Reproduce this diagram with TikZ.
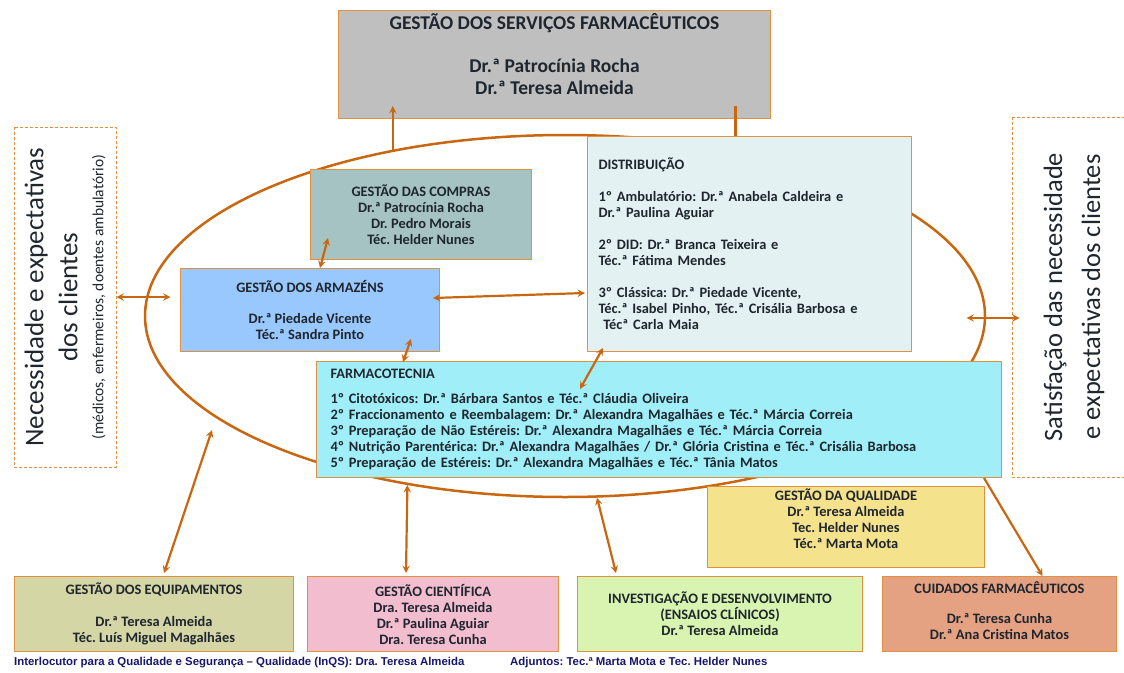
\documentclass[tikz,border=0pt]{standalone}
\usepackage{fontspec}
\setmainfont{Carlito}
\newfontfamily\arialfont{Liberation Sans}
\usetikzlibrary{shapes.geometric}
\frenchspacing
\definecolor{laranja}{HTML}{C8670F}
\definecolor{borda}{HTML}{E0913F}
\definecolor{texto}{HTML}{1F262E}
\definecolor{azulrod}{HTML}{16166E}
\definecolor{cinza}{HTML}{BFBFBF}
\definecolor{verdeacin}{HTML}{A6C3C3}
\definecolor{azularm}{HTML}{99C8FF}
\definecolor{azuldist}{HTML}{E3F1F3}
\definecolor{ciano}{HTML}{A0EFF8}
\definecolor{amarelo}{HTML}{F5E28C}
\definecolor{oliva}{HTML}{D4D6A6}
\definecolor{rosa}{HTML}{F3BDD0}
\definecolor{verdeclaro}{HTML}{D9F4B0}
\definecolor{salmao}{HTML}{E5A283}

\begin{document}
\begin{tikzpicture}[x=1pt, y=-1pt, line join=round, >=stealth,
		caixa/.style={draw=borda, line width=1pt, inner sep=0pt, anchor=north west, align=center, text=texto, font=\bfseries\fontsize{14.4}{16}\selectfont},
		tracejado/.style={draw=borda, line width=1pt, dash pattern=on 3pt off 2pt, inner sep=0pt, rotate=90, align=center, text=texto},
		seta/.style={->, draw=laranja, line width=2.2pt},
		dseta/.style={<->, draw=laranja, line width=2.2pt},
		rodape/.style={anchor=west, inner sep=0pt, text=azulrod, font=\arialfont\bfseries\fontsize{11.4}{13}\selectfont}]
	\useasboundingbox (0,0) rectangle (1124,672);
	% elipse central
	\node[ellipse, draw=laranja, line width=2.5pt, inner sep=0pt, minimum width=840, minimum height=362] (elipse) at (565,316) {};
	% clientes
	\node[tracejado, minimum width=340, minimum height=102, font=\fontsize{27}{34}\selectfont] (necess) at (65,297)
		{Necessidade e expectativas\\dos clientes\\[-8pt]{\fontsize{15.5}{18}\selectfont (médicos, enfermeiros, doentes ambulatório)}};
	\node[tracejado, minimum width=360, minimum height=124, font=\fontsize{26.5}{38}\selectfont] (satisf) at (1074,297)
		{Satisfação das necessidade\\e expectativas dos clientes};
	% caixas
	\node[caixa, fill=cinza, minimum width=432, minimum height=108, font=\bfseries\fontsize{19.5}{21.5}\selectfont] (topo) at (338,10)
		{GESTÃO DOS SERVIÇOS FARMACÊUTICOS\\ \mbox{}\\Dr.ª Patrocínia Rocha\\ Dr.ª Teresa Almeida\\ \mbox{}};
	\node[caixa, fill=verdeacin, minimum width=221, minimum height=90] (compras) at (310,169)
		{GESTÃO DAS COMPRAS\\Dr.ª Patrocínia Rocha\\ Dr. Pedro Morais\\ Téc. Helder Nunes};
	\node[caixa, fill=azularm, minimum width=259, minimum height=83] (armazens) at (180,268)
		{GESTÃO DOS ARMAZÉNS\\[15pt]Dr.ª Piedade Vicente\\Téc.ª Sandra Pinto};
	\node[caixa, fill=azuldist, minimum width=324, minimum height=215, align=left, text width=302, inner xsep=11pt] (distrib) at (587,136)
		{DISTRIBUIÇÃO\\[16pt]1º Ambulatório: Dr.ª Anabela Caldeira e\\Dr.ª Paulina Aguiar\\[16pt]2º DID: Dr.ª Branca Teixeira e\\Téc.ª Fátima Mendes\\[16pt]3º Clássica: Dr.ª Piedade Vicente,\\Téc.ª Isabel Pinho, Téc.ª Crisália Barbosa e\\ \ Técª Carla Maia};
	\node[caixa, fill=ciano, minimum width=685, minimum height=116, align=left, text width=657, inner xsep=14pt] (farmaco) at (316,361)
		{FARMACOTECNIA\\[9pt]1º Citotóxicos: Dr.ª Bárbara Santos e Téc.ª Cláudia Oliveira\\
		2º Fraccionamento e Reembalagem: Dr.ª Alexandra Magalhães e Téc.ª Márcia Correia\\
		3º Preparação de Não Estéreis: Dr.ª Alexandra Magalhães e Téc.ª Márcia Correia\\
		4º Nutrição Parentérica: Dr.ª Alexandra Magalhães / Dr.ª Glória Cristina e Téc.ª Crisália Barbosa\\
		5º Preparação de Estéreis: Dr.ª Alexandra Magalhães e Téc.ª Tânia Matos};
	\node[caixa, fill=amarelo, minimum width=277, minimum height=81] (qualidade) at (707,486)
		{GESTÃO DA QUALIDADE\\Dr.ª Teresa Almeida\\Tec. Helder Nunes\\Téc.ª Marta Mota\\ \mbox{}};
	\node[caixa, fill=oliva, minimum width=279, minimum height=75] (equip) at (14,576)
		{GESTÃO DOS EQUIPAMENTOS\\ \mbox{}\\Dr.ª Teresa Almeida\\Téc. Luís Miguel Magalhães};
	\node[caixa, fill=rosa, minimum width=251, minimum height=75] (cientifica) at (307,576)
		{GESTÃO CIENTÍFICA\\Dra. Teresa Almeida\\Dr.ª Paulina Aguiar\\ Dra. Teresa Cunha};
	\node[caixa, fill=verdeclaro, minimum width=285, minimum height=75] (investig) at (577,576)
		{INVESTIGAÇÃO E DESENVOLVIMENTO\\(ENSAIOS CLÍNICOS)\\Dr.ª Teresa Almeida};
	\node[caixa, fill=salmao, minimum width=234, minimum height=75] (cuidados) at (882,576)
		{CUIDADOS FARMACÊUTICOS\\[14pt]Dr.ª Teresa Cunha\\Dr.ª Ana Cristina Matos\\[-9pt]\mbox{}};
	% rodape
	\node[rodape] (interloc) at (14,663) {Interlocutor para a Qualidade e Segurança – Qualidade (InQS): Dra. Teresa Almeida};
	\node[rodape] (adjuntos) at (510,663) {Adjuntos: Tec.ª Marta Mota e Tec. Helder Nunes};
	% ligacoes
	\coordinate (topo seta) at ([yshift=13pt]topo.south);
	\coordinate (topo liga) at ([xshift=181pt,yshift=13pt]topo.south);
	\coordinate (equip alvo) at (212,430);
	\draw[seta] (elipse.136) -- (elipse.136 |- topo seta);
	\draw[laranja, line width=2.2pt] (topo liga) -- (topo liga |- distrib.north);
	\draw[dseta] (necess.south) -- ++(54,0);
	\draw[dseta] ([yshift=-21pt,xshift=8pt]satisf.north) -- ++(-53,0);
	\draw[dseta] ([xshift=140pt]armazens.north west) -- ([xshift=18pt,yshift=22pt]compras.south west);
	\draw[dseta] ([xshift=-7pt,yshift=12pt]armazens.east) -- ([xshift=-2pt,yshift=-49pt]distrib.west);
	\draw[dseta] ([xshift=87pt,yshift=-1pt]farmaco.north west) -- ([xshift=-29pt,yshift=13pt]armazens.south east);
	\draw[dseta] ([xshift=16pt,yshift=4pt]distrib.south west) -- ([xshift=264pt,yshift=-28pt]farmaco.north west);
	\draw[dseta] ([xshift=10pt,yshift=3pt]equip.north) -- (equip alvo);
	\draw[dseta] ([xshift=-27pt,yshift=3pt]cientifica.north) -- (elipse.-133);
	\draw[dseta] ([xshift=-104pt,yshift=3pt]investig.north) -- (elipse.-80);
	\draw[seta] ([xshift=-18pt]farmaco.south east) -- ([xshift=43pt]cuidados.north);
\end{tikzpicture}
\end{document}
